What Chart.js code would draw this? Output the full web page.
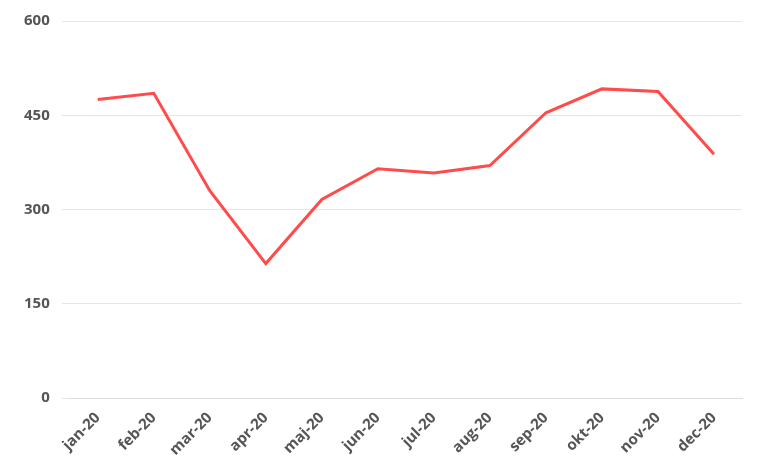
<!DOCTYPE html>
<html><head><script src="https://cdn.jsdelivr.net/npm/chart.js@4"></script>
<style>body{margin:0;background:#fff}#w{width:764px;height:468px}</style></head>
<body><div id="w"><canvas id="c"></canvas></div>
<script>
const categories=["jan-20","feb-20","mar-20","apr-20","maj-20","jun-20","jul-20","aug-20","sep-20","okt-20","nov-20","dec-20"];
const values=[475,485,330,214,316,365,358,370,454,492,488,388];
const yTicks=[0,150,300,450,600];
new Chart(document.getElementById('c'),{type:'line',
data:{labels:categories,datasets:[{data:values,borderColor:'#ff4b4b',borderWidth:3,pointRadius:0,tension:0,fill:false}]},
options:{responsive:true,maintainAspectRatio:false,animation:false,
layout:{padding:{top:8,right:22,left:12,bottom:6}},
plugins:{legend:{display:false},tooltip:{enabled:false}},
scales:{x:{offset:true,grid:{display:false},border:{color:'#ddd'},
ticks:{color:'#555',font:{family:'Open Sans',weight:'bold',size:15},maxRotation:45,minRotation:45}},
y:{min:0,max:600,afterBuildTicks:a=>{a.ticks=yTicks.map(v=>({value:v}))},grid:{color:'#e6e6e6'},border:{display:false},
ticks:{color:'#555',font:{family:'Open Sans',weight:'bold',size:15},padding:12}}}}});
</script></body></html>
